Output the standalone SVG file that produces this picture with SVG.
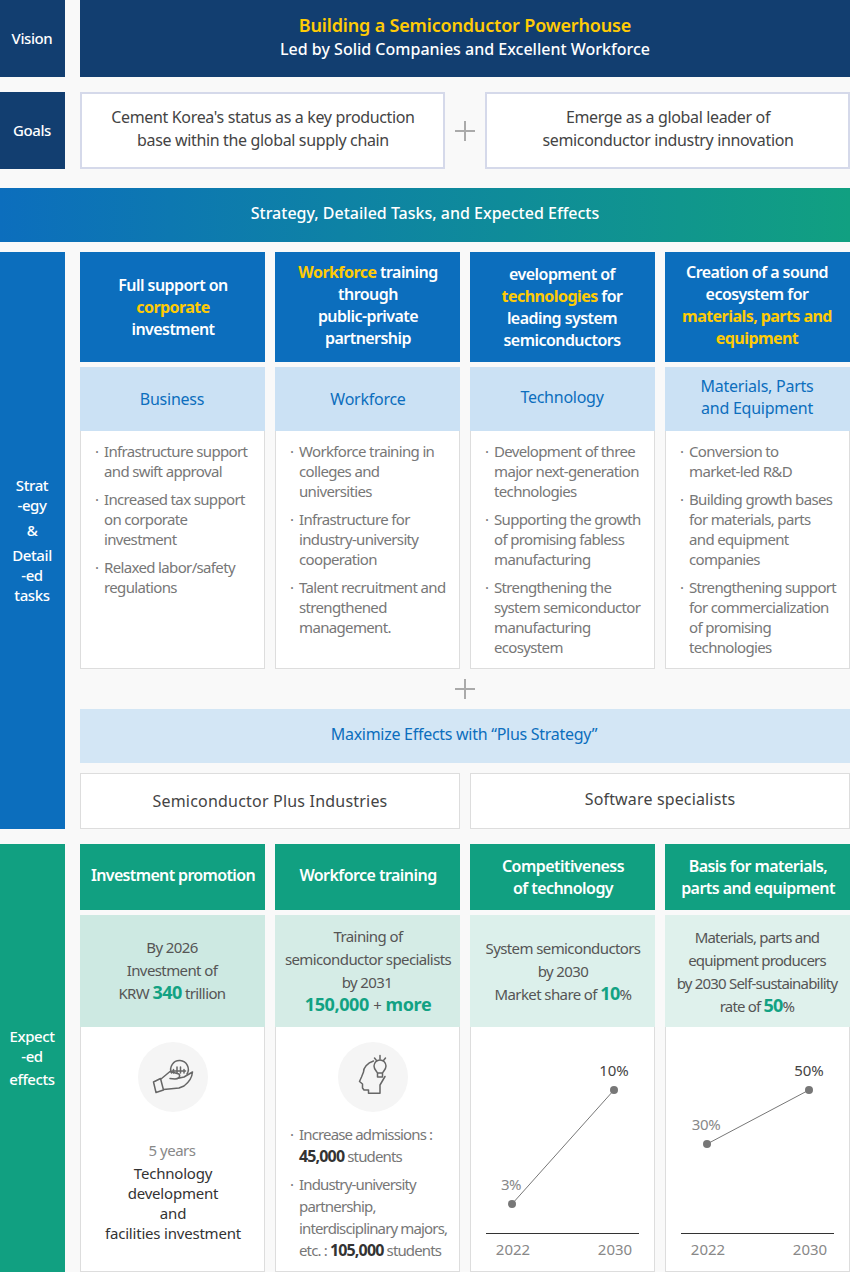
<svg xmlns="http://www.w3.org/2000/svg" width="850" height="1272" viewBox="0 0 850 1272">
<style>
text{font-family:"Noto Sans","Open Sans","Liberation Sans",sans-serif;letter-spacing:-.4px}
.c{text-anchor:middle}
.w{fill:#fff;font-size:15px;font-weight:500}
.h{fill:#fff;font-size:16px;font-weight:600;text-anchor:middle;letter-spacing:-.55px}
.y{fill:#ffcb05;font-weight:700}
.s{fill:#0c6ebd;font-size:16px;text-anchor:middle;letter-spacing:-.25px}
.b{fill:#777;font-size:15px;letter-spacing:-.65px}
.b2{fill:#777;font-size:15px;letter-spacing:-.85px}
.d{fill:#333;font-size:15px;text-anchor:middle;letter-spacing:-.2px}
.m{fill:#555;font-size:15px;text-anchor:middle;letter-spacing:-.6px}
.m2{fill:#555;font-size:15px;text-anchor:middle;letter-spacing:-.8px}
.g{fill:#12a283;font-weight:700;font-size:18px}
.k{fill:#333;font-weight:700;font-size:16px}
.gt{fill:#444;font-size:16px;letter-spacing:-.35px;text-anchor:middle}
.blue{fill:#0c6ebd}.green{fill:#11a081}.navy{fill:#123e70}
.box{fill:#fff;stroke:#ddd;stroke-width:1}
.goal{fill:#fff;stroke:#d5d9ea;stroke-width:2}
.ln{stroke:#777;stroke-width:1;fill:none}
.pl{stroke:#aaa;stroke-width:2;fill:none}
.ic{stroke:#666;stroke-width:1.5;fill:none;stroke-linejoin:round;stroke-linecap:round}
.dot{fill:#777}
.ax{stroke:#333;stroke-width:1}
.yr{fill:#888;font-size:15px;text-anchor:middle;letter-spacing:0}
</style>
<defs><linearGradient id="gr" x1="0" y1="0" x2="1" y2="0"><stop offset="0" stop-color="#0c6ebd"/><stop offset="1" stop-color="#11a081"/></linearGradient></defs>
<rect width="850" height="1272" fill="#f9f9f9"/>
<g id="vision">
<rect class="navy" x="0" y="0" width="65" height="77"/>
<text class="w c" x="32" y="44">Vision</text>
<rect class="navy" x="80" y="0" width="770" height="77"/>
<text class="c" x="465" y="32" fill="#ffcb05" font-size="18" font-weight="600" style="letter-spacing:-.17px">Building a Semiconductor Powerhouse</text>
<text class="c" x="465" y="55" fill="#fff" font-size="16" font-weight="500" style="letter-spacing:0">Led by Solid Companies and Excellent Workforce</text>
</g>
<g id="goals">
<rect class="navy" x="0" y="92" width="65" height="77"/>
<text class="w c" x="32" y="136">Goals</text>
<rect class="goal" x="81" y="93" width="363" height="75"/>
<text class="gt" x="263" y="123">Cement Korea's status as a key production</text>
<text class="gt" x="263" y="146">base within the global supply chain</text>
<path class="pl" d="M465 121V141M455 131H475"/>
<rect class="goal" x="486" y="93" width="363" height="75"/>
<text class="gt" x="668" y="123">Emerge as a global leader of</text>
<text class="gt" x="668" y="146">semiconductor industry innovation</text>
</g>
<g id="banner">
<rect x="0" y="188" width="850" height="54" fill="url(#gr)"/>
<text class="c" x="425" y="219" fill="#fff" font-size="16" font-weight="500" style="letter-spacing:0">Strategy, Detailed Tasks, and Expected Effects</text>
</g>
<g id="strategy-label">
<rect class="blue" x="0" y="252" width="65" height="577"/>
<text class="w c" x="32" y="491">Strat</text><text class="w c" x="32" y="511">-egy</text><text class="w c" x="32" y="536">&amp;</text><text class="w c" x="32" y="561">Detail</text><text class="w c" x="32" y="581">-ed</text><text class="w c" x="32" y="601">tasks</text>
</g>
<g id="col-business">
<rect class="blue" x="80" y="252" width="185" height="110"/>
<text class="h" x="173" y="291">Full support on</text>
<text class="h y" x="173" y="313">corporate</text>
<text class="h" x="173" y="335">investment</text>
<rect class="box" x="80.500" y="430.500" width="184" height="238"/>
<rect x="80" y="367" width="185" height="64" fill="#cbe1f4"/>
<text class="s" x="172" y="405">Business</text>
<text class="b"><tspan x="95" y="457">·</tspan><tspan x="104" y="457">Infrastructure support</tspan><tspan x="104" y="477">and swift approval</tspan><tspan x="95" y="505">·</tspan><tspan x="104" y="505">Increased tax support</tspan><tspan x="104" y="525">on corporate</tspan><tspan x="104" y="545">investment</tspan><tspan x="95" y="573">·</tspan><tspan x="104" y="573">Relaxed labor/safety</tspan><tspan x="104" y="593">regulations</tspan></text>
</g>
<g id="col-workforce">
<rect class="blue" x="275" y="252" width="185" height="110"/>
<text class="h" x="368" y="278"><tspan class="y">Workforce</tspan> training</text>
<text class="h" x="368" y="300">through</text>
<text class="h" x="368" y="322">public-private</text>
<text class="h" x="368" y="344">partnership</text>
<rect class="box" x="275.500" y="430.500" width="184" height="238"/>
<rect x="275" y="367" width="185" height="64" fill="#cbe1f4"/>
<text class="s" x="368" y="405">Workforce</text>
<text class="b"><tspan x="290" y="457">·</tspan><tspan x="299" y="457">Workforce training in</tspan><tspan x="299" y="477">colleges and</tspan><tspan x="299" y="497">universities</tspan><tspan x="290" y="525">·</tspan><tspan x="299" y="525">Infrastructure for</tspan><tspan x="299" y="545">industry-university</tspan><tspan x="299" y="565">cooperation</tspan><tspan x="290" y="593">·</tspan><tspan x="299" y="593">Talent recruitment and</tspan><tspan x="299" y="613">strengthened</tspan><tspan x="299" y="633">management.</tspan></text>
</g>
<g id="col-technology">
<rect class="blue" x="470" y="252" width="185" height="110"/>
<text class="h" x="562" y="280">evelopment of</text>
<text class="h" x="562" y="302"><tspan class="y">technologies</tspan> for</text>
<text class="h" x="562" y="324">leading system</text>
<text class="h" x="562" y="346">semiconductors</text>
<rect class="box" x="470.500" y="430.500" width="184" height="238"/>
<rect x="470" y="367" width="185" height="64" fill="#cbe1f4"/>
<text class="s" x="562" y="403">Technology</text>
<text class="b"><tspan x="485" y="457">·</tspan><tspan x="494" y="457">Development of three</tspan><tspan x="494" y="477">major next-generation</tspan><tspan x="494" y="497">technologies</tspan><tspan x="485" y="525">·</tspan><tspan x="494" y="525">Supporting the growth</tspan><tspan x="494" y="545">of promising fabless</tspan><tspan x="494" y="565">manufacturing</tspan><tspan x="485" y="593">·</tspan><tspan x="494" y="593">Strengthening the</tspan><tspan x="494" y="613">system semiconductor</tspan><tspan x="494" y="633">manufacturing</tspan><tspan x="494" y="653">ecosystem</tspan></text>
</g>
<g id="col-materials">
<rect class="blue" x="665" y="252" width="185" height="110"/>
<text class="h" x="757" y="278">Creation of a sound</text>
<text class="h" x="757" y="300">ecosystem for</text>
<text class="h y" x="757" y="322">materials, parts and</text>
<text class="h y" x="757" y="344">equipment</text>
<rect class="box" x="665.500" y="430.500" width="184" height="238"/>
<rect x="665" y="367" width="185" height="64" fill="#cbe1f4"/>
<text class="s" x="757" y="392">Materials, Parts</text>
<text class="s" x="757" y="414">and Equipment</text>
<text class="b"><tspan x="680" y="457">·</tspan><tspan x="689" y="457">Conversion to</tspan><tspan x="689" y="477">market-led R&amp;D</tspan><tspan x="680" y="505">·</tspan><tspan x="689" y="505">Building growth bases</tspan><tspan x="689" y="525">for materials, parts</tspan><tspan x="689" y="545">and equipment</tspan><tspan x="689" y="565">companies</tspan><tspan x="680" y="593">·</tspan><tspan x="689" y="593">Strengthening support</tspan><tspan x="689" y="613">for commercialization</tspan><tspan x="689" y="633">of promising</tspan><tspan x="689" y="653">technologies</tspan></text>
</g>
<g id="plus-strategy">
<path class="pl" d="M465 679V699M455 689H475"/>
<rect x="80" y="709" width="770" height="54" fill="#d3e6f5"/>
<text class="c" x="464" y="740" fill="#0c6ebd" font-size="16" style="letter-spacing:-.28px">Maximize Effects with “Plus Strategy”</text>
<rect class="box" x="80.500" y="773.500" width="379" height="55"/>
<text class="c" x="270" y="807" fill="#444" font-size="16" style="letter-spacing:.2px">Semiconductor Plus Industries</text>
<rect class="box" x="470.500" y="773.500" width="379" height="55"/>
<text class="c" x="660" y="805" fill="#444" font-size="16" style="letter-spacing:.15px">Software specialists</text>
</g>
<g id="effects-label">
<rect class="green" x="0" y="844" width="65" height="428"/>
<text class="w c" x="32" y="1042">Expect</text><text class="w c" x="32" y="1062">-ed</text><text class="w c" x="32" y="1085">effects</text>
</g>
<g id="eff-investment">
<rect class="green" x="80" y="844" width="185" height="66"/>
<text class="h" x="173" y="881" style="letter-spacing:-.65px">Investment promotion</text>
<rect class="box" x="80.500" y="1026.500" width="184" height="245"/>
<rect x="80" y="915" width="185" height="112" fill="#cde9e2"/>
<text class="m" x="172" y="953">By 2026</text>
<text class="m" x="172" y="976">Investment of</text>
<text class="m" x="172" y="999">KRW <tspan class="g">340</tspan> trillion</text>
<circle cx="173" cy="1077" r="35" fill="#f5f5f5"/>
<path class="ic" d="M153.500 1082L160.500 1078.500L163.500 1090L156 1092.500ZM161 1079L170 1071.500L179 1074C181 1077 178 1079 175 1079L170 1078.500M175 1079L184 1077L192.500 1072C192 1078 188 1083 184 1086L179 1088L163.500 1089.500"/>
<path class="ic" d="M171.500 1073A8.800 8.800 0 1 1 187 1074"/>
<path class="ic" d="M173.500 1069.500V1073M177 1067V1073M180.500 1067V1073M184 1069.500V1073M172 1071H185.500"/>
<text class="c" x="172" y="1156" fill="#888" font-size="15" style="letter-spacing:-.5px">5 years</text>
<text class="d" x="173" y="1179">Technology</text>
<text class="d" x="173" y="1199">development</text>
<text class="d" x="173" y="1219">and</text>
<text class="d" x="173" y="1239">facilities investment</text>
</g>
<g id="eff-workforce">
<rect class="green" x="275" y="844" width="185" height="66"/>
<text class="h" x="368" y="881">Workforce training</text>
<rect class="box" x="275.500" y="1026.500" width="184" height="245"/>
<rect x="275" y="915" width="185" height="112" fill="#d5ece6"/>
<text class="m" x="368" y="942">Training of</text>
<text class="m" x="368" y="965">semiconductor specialists</text>
<text class="m" x="367" y="988">by 2031</text>
<text class="c g" x="368" y="1011">150,000 <tspan fill="#555" font-size="15" font-weight="400">+</tspan> more</text>
<circle cx="373" cy="1077" r="35" fill="#f5f5f5"/>
<path class="ic" d="M373.500 1061C367 1063 363.500 1068 363.500 1072L361.500 1077L359.500 1081.500L362.500 1084V1088L364 1090H368.500V1093.300H380V1085L385 1076.500"/>
<path class="ic" d="M377.500 1073C376 1070.500 374 1069 374 1066A6 6 0 0 1 386 1066C386 1069 384 1070.500 382.500 1073ZM377.500 1073V1077H382.500V1073M374.500 1058L376.500 1060.500M380 1055.500V1059M385.500 1058L383.500 1060.500"/>
<text class="b2"><tspan x="290" y="1140">·</tspan><tspan x="299" y="1140">Increase admissions :</tspan><tspan x="299" y="1162"><tspan class="k">45,000</tspan> students</tspan><tspan x="290" y="1190">·</tspan><tspan x="299" y="1190">Industry-university</tspan><tspan x="299" y="1212">partnership,</tspan><tspan x="299" y="1234">interdisciplinary majors,</tspan><tspan x="299" y="1256">etc. : <tspan class="k">105,000</tspan> students</tspan></text>
</g>
<g id="eff-technology">
<rect class="green" x="470" y="844" width="185" height="66"/>
<text class="h" x="563" y="872">Competitiveness</text>
<text class="h" x="563" y="894">of technology</text>
<rect class="box" x="470.500" y="1026.500" width="184" height="245"/>
<rect x="470" y="915" width="185" height="112" fill="#dcf0eb"/>
<text class="m" x="563" y="954">System semiconductors</text>
<text class="m" x="563" y="977">by 2030</text>
<text class="m" x="563" y="1000">Market share of <tspan class="g">10</tspan>%</text>
<path class="ln" d="M512 1204L614 1090"/>
<circle class="dot" cx="512" cy="1204" r="4"/><circle class="dot" cx="614" cy="1090" r="4"/>
<text class="c" x="511" y="1190" fill="#888" font-size="15">3%</text>
<text class="c" x="614" y="1076" fill="#444" font-size="15" style="letter-spacing:0">10%</text>
<path class="ax" d="M486 1233.500H639"/>
<text class="yr" x="513" y="1255">2022</text><text class="yr" x="615" y="1255">2030</text>
</g>
<g id="eff-materials">
<rect class="green" x="665" y="844" width="185" height="66"/>
<text class="h" x="758" y="872">Basis for materials,</text>
<text class="h" x="758" y="894">parts and equipment</text>
<rect class="box" x="665.500" y="1026.500" width="184" height="245"/>
<rect x="665" y="915" width="185" height="112" fill="#dff1ec"/>
<text class="m2" x="757" y="943">Materials, parts and</text>
<text class="m2" x="757" y="966">equipment producers</text>
<text class="m2" x="757" y="989">by 2030 Self-sustainability</text>
<text class="m2" x="757" y="1012">rate of <tspan class="g">50</tspan>%</text>
<path class="ln" d="M707 1144L809 1090"/>
<circle class="dot" cx="707" cy="1144" r="4"/><circle class="dot" cx="809" cy="1090" r="4"/>
<text class="c" x="706" y="1130" fill="#888" font-size="15">30%</text>
<text class="c" x="809" y="1076" fill="#444" font-size="15" style="letter-spacing:0">50%</text>
<path class="ax" d="M681 1233.500H834"/>
<text class="yr" x="708" y="1255">2022</text><text class="yr" x="810" y="1255">2030</text>
</g>
</svg>
